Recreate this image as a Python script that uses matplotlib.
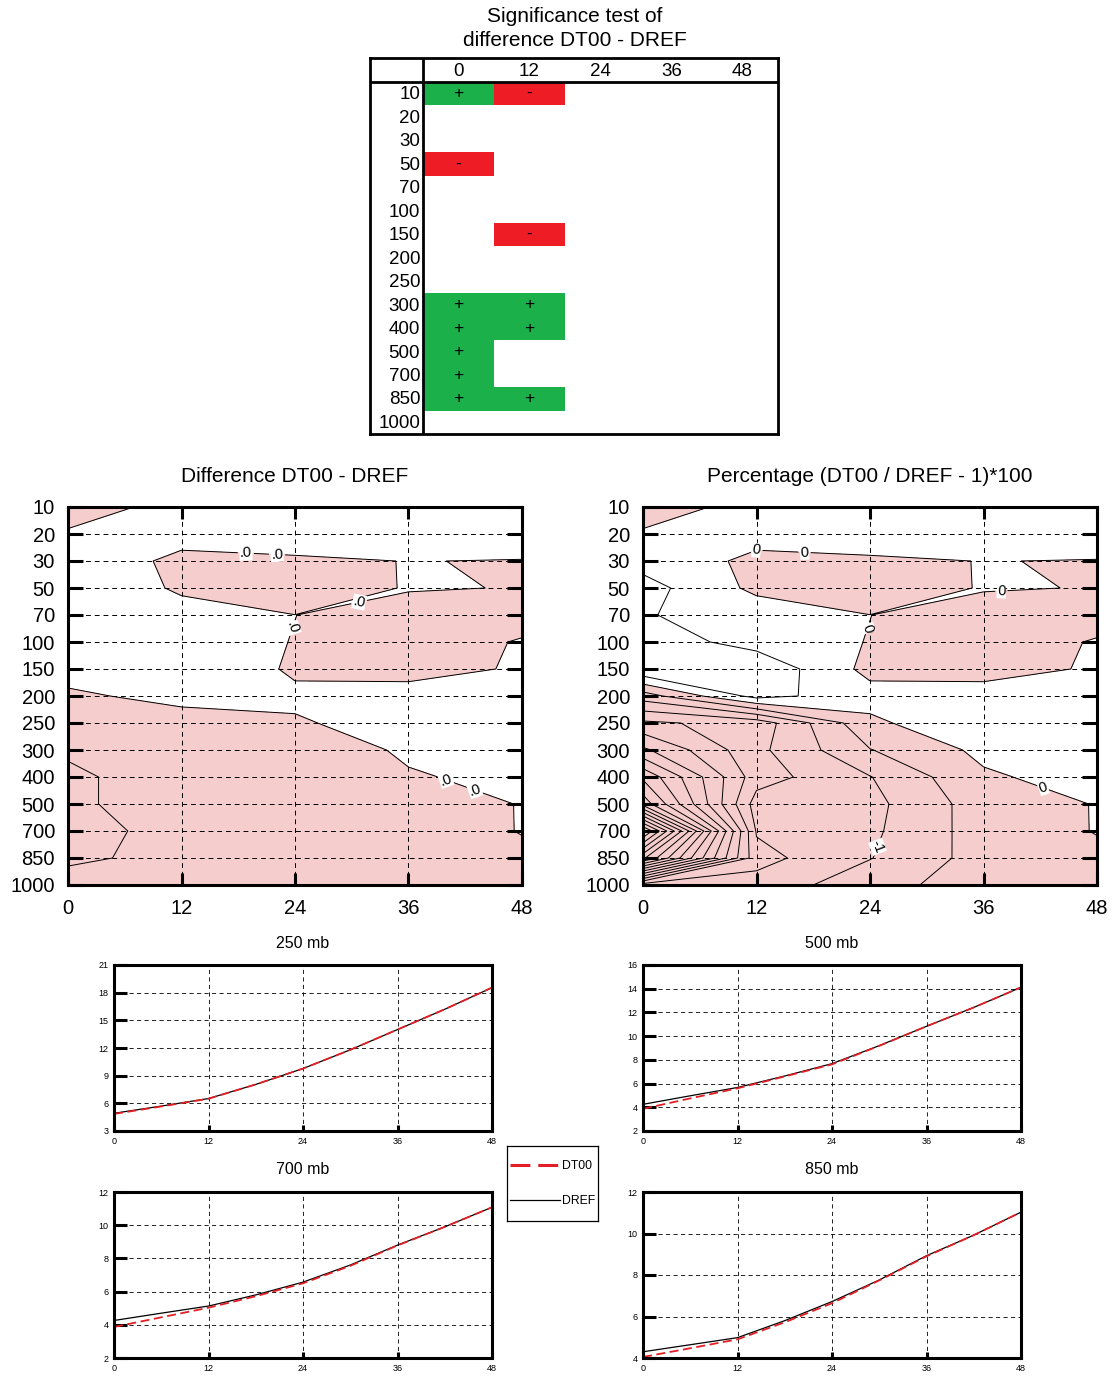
import numpy as np
import matplotlib
matplotlib.use('Agg')
import matplotlib.pyplot as plt
from matplotlib.patches import Rectangle
from matplotlib.lines import Line2D
from matplotlib.tri import Triangulation

plt.rcParams['font.family'] = ['Liberation Sans', 'DejaVu Sans']
plt.rcParams['axes.unicode_minus'] = False
plt.rcParams['contour.negative_linestyle'] = 'solid'

# ---------------------------------------------------------------- data
pressure_levels = ['10', '20', '30', '50', '70', '100', '150', '200', '250',
                   '300', '400', '500', '700', '850', '1000']
lead_times = [0, 12, 24, 36, 48]

# significance of DT00 - DREF per pressure level ('+', '-' or '')
sig_00h = ['+', '', '', '-', '', '', '', '', '', '+', '+', '+', '+', '+', '']
sig_12h = ['-', '', '', '', '', '', '-', '', '', '+', '+', '', '', '+', '']
sig_24h = ['', '', '', '', '', '', '', '', '', '', '', '', '', '', '']
sig_36h = ['', '', '', '', '', '', '', '', '', '', '', '', '', '', '']
sig_48h = ['', '', '', '', '', '', '', '', '', '', '', '', '', '', '']

# difference DT00 - DREF, rows = pressure levels, cols = lead times
diff_10 = [-0.040, 0.029, 0.030, 0.030, 0.030]
diff_20 = [0.010, 0.015, 0.045, 0.030, 0.045]
diff_30 = [0.030, -0.010, -0.012, 0.0015, -0.003]
diff_50 = [0.070, -0.012, -0.045, 0.005, -0.0024]
diff_70 = [0.053, 0.030, 0.0005, -0.030, -0.030]
diff_100 = [0.079, 0.030, -0.002, -0.040, 0.0057]
diff_150 = [0.095, 0.090, -0.015, -0.040, 0.012]
diff_200 = [-0.040, 0.068, 0.019, 0.045, 0.030]
diff_250 = [-0.120, -0.100, -0.010, 0.040, 0.040]
diff_300 = [-0.190, -0.120, -0.050, 0.012, 0.030]
diff_400 = [-0.214, -0.162, -0.100, -0.007, 0.020]
diff_500 = [-0.214, -0.162, -0.115, -0.025, 0.002]
diff_700 = [-0.250, -0.155, -0.110, -0.027, 0.002]
diff_850 = [-0.220, -0.169, -0.100, -0.030, -0.010]
diff_1000 = [-0.153, -0.130, -0.070, -0.025, -0.010]

# percentage (DT00 / DREF - 1) * 100
pct_10 = [-0.40, 0.29, 0.30, 0.30, 0.30]
pct_20 = [0.10, 0.15, 0.45, 0.30, 0.45]
pct_30 = [0.30, -0.10, -0.12, 0.015, -0.03]
pct_50 = [0.70, -0.12, -0.45, 0.05, -0.024]
pct_70 = [0.53, 0.30, 0.005, -0.30, -0.30]
pct_100 = [0.79, 0.30, -0.02, -0.40, 0.057]
pct_150 = [0.95, 0.90, -0.15, -0.40, 0.12]
pct_200 = [-0.75, 0.68, 0.19, 0.45, 0.30]
pct_250 = [-2.10, -1.80, -0.10, 0.40, 0.40]
pct_300 = [-3.10, -1.63, -0.52, 0.117, 0.30]
pct_400 = [-4.40, -1.73, -1.02, -0.07, 0.20]
pct_500 = [-5.30, -1.27, -1.15, -0.25, 0.02]
pct_700 = [-9.10, -1.45, -1.10, -0.27, 0.02]
pct_850 = [-6.60, -1.68, -1.02, -0.30, -0.10]
pct_1000 = [-1.20, -1.30, -0.70, -0.245, -0.10]

# scores at single levels
line_hours = [0, 6, 12, 18, 24, 30, 36, 42, 48]
dref_250 = [4.92, 5.70, 6.52, 8.05, 9.77, 11.80, 14.00, 16.20, 18.55]
dt00_250 = [4.85, 5.66, 6.50, 8.05, 9.77, 11.80, 14.00, 16.20, 18.55]
dref_500 = [4.25, 4.97, 5.67, 6.64, 7.68, 9.20, 10.83, 12.42, 14.12]
dt00_500 = [3.87, 4.75, 5.60, 6.60, 7.62, 9.18, 10.83, 12.42, 14.12]
dref_700 = [4.26, 4.70, 5.13, 5.80, 6.57, 7.60, 8.80, 9.90, 11.08]
dt00_700 = [3.87, 4.45, 5.03, 5.72, 6.50, 7.55, 8.78, 9.90, 11.08]
dref_850 = [4.30, 4.64, 4.98, 5.80, 6.72, 7.76, 8.93, 9.92, 11.03]
dt00_850 = [4.05, 4.47, 4.90, 5.72, 6.64, 7.74, 8.90, 9.92, 11.03]
yticks_250 = [3, 6, 9, 12, 15, 18, 21]
yticks_500 = [2, 4, 6, 8, 10, 12, 14, 16]
yticks_700 = [2, 4, 6, 8, 10, 12]
yticks_850 = [4, 6, 8, 10, 12]

# ---------------------------------------------------------------- figure
W, H = 1116, 1378
fig = plt.figure(figsize=(W / 100, H / 100), dpi=100)
fig.patch.set_facecolor('white')

GREEN = '#1CB04B'
RED = '#EE1D25'
PINK = '#F6CDCD'
LRED = '#E31E24'


def add_px_axes(x0, y0, x1, y1):
    return fig.add_axes([x0 / W, 1 - y1 / H, (x1 - x0) / W, (y1 - y0) / H])


# ---------------- significance table
fig.text(575 / W, 1 - 17 / H, 'Significance test of', ha='center', va='center', fontsize=15)
fig.text(575 / W, 1 - 40 / H, 'difference DT00 - DREF', ha='center', va='center', fontsize=15)

axT = add_px_axes(370, 58, 778, 434)
lab_w = 53 / 71.0
hdr_h = 24 / 23.47
axT.set_xlim(-lab_w, 5)
axT.set_ylim(15, -hdr_h)
axT.set_xticks([])
axT.set_yticks([])
for s in axT.spines.values():
    s.set_linewidth(2)
axT.axvline(0, color='k', lw=2)
axT.axhline(0, color='k', lw=2)
sig_cols = [sig_00h, sig_12h, sig_24h, sig_36h, sig_48h]
for j, col in enumerate(sig_cols):
    axT.text(j + 0.5, -hdr_h / 2 + 0.05, str(lead_times[j]), ha='center', va='center',
             fontsize=13.5)
    for i, s in enumerate(col):
        if s:
            axT.add_patch(Rectangle((j, i), 1, 1, facecolor=GREEN if s == '+' else RED,
                                    edgecolor='none'))
            axT.text(j + 0.5, i + 0.5, s, ha='center', va='center', fontsize=12.5)
for i, lev in enumerate(pressure_levels):
    axT.text(-0.04, i + 0.55, lev, ha='right', va='center', fontsize=13.5)

# blocks of grid cells drawn separately: (column range, row range, split along TR-BL)
BLOCKS = [((0, 2), (0, 14), False),
          ((2, 3), (0, 3), False),
          ((2, 3), (3, 4), True),
          ((2, 3), (4, 14), False),
          ((3, 4), (0, 14), False)]


# ---------------- contour panels
def contour_panel(x0, rows, title, line_levels, label_groups):
    ax = add_px_axes(x0, 507, x0 + 454, 885)
    Z = np.array(rows)
    zlow = Z.min() - 1
    labelled = [g[0] for g in label_groups]
    plain = [lv for lv in line_levels if lv not in labelled]
    block_sets = []
    for (c0, c1), (r0, r1), tri in BLOCKS:
        t = np.array(lead_times[c0:c1 + 1], dtype=float)
        y = np.arange(r0, r1 + 1, dtype=float)
        sub = Z[r0:r1 + 1, c0:c1 + 1]
        TT, YY = np.meshgrid(t, y)
        if tri:
            triang = Triangulation(TT.ravel(), YY.ravel(), triangles=[[0, 1, 2], [1, 3, 2]])
            zz = sub.ravel()
            ax.tricontourf(triang, zz, levels=[zlow, 0], colors=[PINK])
            if any(sub.min() < lv < sub.max() for lv in plain):
                ax.tricontour(triang, zz, levels=plain, colors='k', linewidths=0.7)
            sets = {}
            for lev in labelled:
                if sub.min() < lev < sub.max():
                    sets[lev] = ax.tricontour(triang, zz, levels=[lev], colors='k',
                                              linewidths=0.7)
        else:
            ax.contourf(TT, YY, sub, levels=[zlow, 0], colors=[PINK])
            if any(sub.min() < lv < sub.max() for lv in plain):
                ax.contour(TT, YY, sub, levels=plain, colors='k', linewidths=0.7)
            sets = {}
            for lev in labelled:
                if sub.min() < lev < sub.max():
                    sets[lev] = ax.contour(TT, YY, sub, levels=[lev], colors='k',
                                           linewidths=0.7)
        block_sets.append(((t[0], t[-1], y[0], y[-1]), sets))
    for lev, text, positions in label_groups:
        for (px, py) in positions:
            for (ta, tb, ya, yb), sets in block_sets:
                if ta <= px <= tb and ya <= py <= yb and lev in sets:
                    txts = ax.clabel(sets[lev], manual=[(px, py)], inline=True,
                                     fmt={lev: text}, fontsize=10.5, inline_spacing=2)
                    for tx in txts:
                        tx.set_bbox(dict(facecolor='white', edgecolor='none', pad=0.3))
                    break
    ax.set_xlim(0, 48)
    ax.set_ylim(14, 0)
    ax.set_xticks(lead_times)
    ax.set_yticks(range(len(pressure_levels)))
    ax.set_yticklabels(pressure_levels)
    ax.tick_params(axis='y', direction='in', length=10.8, width=2.2, left=True, right=True,
                   labelsize=14.5, pad=9.4)
    ax.tick_params(axis='x', direction='in', length=8.6, width=2.2, top=True, bottom=True,
                   labelsize=14.5, pad=10)
    ax.grid(True, color='k', lw=0.7, ls=(0, (5, 4)))
    ax.set_axisbelow(False)
    for s in ax.spines.values():
        s.set_linewidth(2.2)
    ax.text(0.5, 1 + 30 / 378, title, transform=ax.transAxes, ha='center', va='center',
            fontsize=15)
    return ax


diff_rows = [diff_10, diff_20, diff_30, diff_50, diff_70, diff_100, diff_150, diff_200,
             diff_250, diff_300, diff_400, diff_500, diff_700, diff_850, diff_1000]
pct_rows = [pct_10, pct_20, pct_30, pct_50, pct_70, pct_100, pct_150, pct_200,
            pct_250, pct_300, pct_400, pct_500, pct_700, pct_850, pct_1000]

contour_panel(68, diff_rows, 'Difference DT00 - DREF', [-0.2, 0.0],
              [(0.0, '.0', [(18.8, 1.72), (22.1, 1.8), (30.8, 3.55), (23.9, 4.5),
                            (40.0, 10.05), (43.0, 10.5)])])
contour_panel(643, pct_rows, 'Percentage (DT00 / DREF - 1)*100',
              [float(v) for v in np.arange(-9.0, 0.51, 0.5)],
              [(0.0, '0', [(12.0, 1.55), (17.1, 1.62), (37.9, 3.15), (23.8, 4.5),
                           (42.4, 10.3)]),
               (-1.0, '-1', [(24.9, 12.6)])])


# ---------------- line panels
def line_panel(x0, y0, title, dref, dt00, yticks):
    ax = add_px_axes(x0, y0, x0 + 378, y0 + 166)
    l_ref, = ax.plot(line_hours, dref, color='k', lw=0.9)
    l_t00, = ax.plot(line_hours, dt00, color=LRED, lw=1.3, ls=(0, (5, 2.5)))
    ax.set_xlim(0, 48)
    ax.set_ylim(yticks[0], yticks[-1])
    ax.set_xticks(lead_times)
    ax.set_yticks(yticks)
    ax.tick_params(axis='y', direction='in', length=9, width=2.2, labelsize=6.5, pad=4)
    ax.tick_params(axis='x', direction='in', length=4, width=2.2, labelsize=6.5, pad=4.5)
    ax.grid(True, color='k', lw=0.6, ls=(0, (5, 4)))
    for s in ax.spines.values():
        s.set_linewidth(2.2)
    ax.text(0.5, 1 + 22 / 166, title, transform=ax.transAxes, ha='center', va='center',
            fontsize=11.5)
    return l_ref, l_t00


line_panel(114, 965, '250 mb', dref_250, dt00_250, yticks_250)
line_panel(643, 965, '500 mb', dref_500, dt00_500, yticks_500)
line_panel(114, 1192, '700 mb', dref_700, dt00_700, yticks_700)
line_panel(643, 1192, '850 mb', dref_850, dt00_850, yticks_850)

# ---------------- legend
axL = add_px_axes(507, 1146, 598, 1221)
axL.set_xticks([])
axL.set_yticks([])
for s in axL.spines.values():
    s.set_linewidth(0.9)
h_t00 = Line2D([], [], color=LRED, lw=2.2, ls=(0, (6.5, 2.6)))
h_ref = Line2D([], [], color='k', lw=0.9)
axL.legend([h_t00, h_ref], ['DT00', 'DREF'], loc='center', frameon=False,
           handlelength=4.1, handletextpad=0.1, labelspacing=1.9, fontsize=8.8,
           borderaxespad=0, borderpad=0)

fig.savefig('out.png', dpi=100)
